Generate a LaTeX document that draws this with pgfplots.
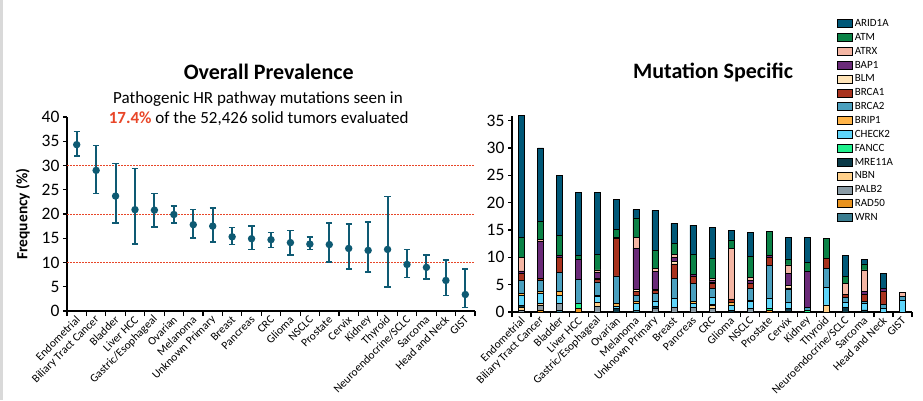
\documentclass[border=0pt]{standalone}
\usepackage{pgfplots}
\pgfplotsset{compat=1.18}
\usepackage{pgfplotstable}
\usepackage{fontspec}
\setmainfont{Carlito}

\definecolor{cARID}{RGB}{0,88,120}
\definecolor{cATM}{RGB}{10,130,70}
\definecolor{cATRX}{RGB}{244,182,164}
\definecolor{cBAP}{RGB}{106,42,120}
\definecolor{cBLM}{RGB}{255,228,184}
\definecolor{cBRCA1}{RGB}{168,50,30}
\definecolor{cBRCA2}{RGB}{74,159,190}
\definecolor{cBRIP}{RGB}{255,180,72}
\definecolor{cCHK}{RGB}{94,213,250}
\definecolor{cFANCC}{RGB}{30,240,140}
\definecolor{cMRE}{RGB}{10,58,72}
\definecolor{cNBN}{RGB}{255,208,138}
\definecolor{cPALB}{RGB}{138,155,165}
\definecolor{cRAD}{RGB}{232,146,30}
\definecolor{cWRN}{RGB}{58,125,144}
\definecolor{pt}{RGB}{14,90,115}
\definecolor{redl}{RGB}{232,70,40}

\pgfplotstableread{
x y ep em
0 34.3 2.7 2.3
1 29.0 5.1 4.8
2 23.7 6.7 5.5
3 20.9 8.5 7.1
4 20.8 3.4 3.5
5 19.9 1.8 1.7
6 17.8 3.1 2.7
7 17.5 3.8 3.3
8 15.3 1.9 1.6
9 14.9 2.6 2.2
10 14.7 1.5 1.6
11 14.1 2.5 2.5
12 13.8 1.4 1.1
13 13.7 4.5 3.6
14 12.9 5.1 4.2
15 12.5 5.9 4.4
16 12.7 10.9 7.7
17 9.6 3.1 2.7
18 9.0 2.6 2.4
19 6.3 4.2 3.1
20 3.4 5.3 2.7
}\prevtable

\pgfplotstableread{
x WRN RAD50 PALB2 NBN MRE11A FANCC CHECK2 BRIP1 BRCA2 BRCA1 BLM BAP1 ATRX ATM ARID1A
0 0 0 0.3 0.6 0.3 0 1.9 0.3 2.4 1.3 0 0.4 2.5 3.7 22.2
1 0 0.4 0.9 0.3 0 0 1.9 0.3 2.0 0.4 0 6.7 0.4 3.3 13.4
2 0.35 0 1.2 0 0 0 1.5 0.7 3.5 2.7 0 0.4 0 3.6 11.0
3 0 0.7 0 0 0 0.9 0 0 4.4 0 0 3.6 0 0.8 11.5
4 0 0 1.0 0.8 0 0 1.0 0.3 2.4 0.4 0.3 1.1 0.4 2.8 11.4
5 0 0 0 0 0.7 0 0.4 0.5 5.0 6.8 0 0.3 0 1.4 5.5
6 0.3 0 0 0 0 0 1.3 0.3 1.2 0.7 0.4 7.5 1.9 3.6 1.5
7 0 0 0.7 0 0.3 0 0.9 0 1.5 0.5 0.3 3.2 0.5 3.3 7.4
8 0 0 0.9 0 0 0 1.6 0 3.6 2.7 0.4 0.8 0.6 1.9 3.7
9 0 0 0.9 0 0 0 0.7 0.4 3.3 1.2 0 0.4 0 3.6 5.4
10 0 0 0.7 0.5 0.2 0 1.3 0 1.6 0.9 0.3 0.3 0.4 3.7 5.5
11 0 0 0 0 0.3 0 1.0 0.5 0 0.6 0 0 9.2 1.6 1.7
12 0 0 0.7 0 0 0 1.2 0.2 2.2 1.0 0 0.5 0.6 3.7 4.4
13 0 0.3 0 0 0 0.3 1.9 0 6.0 1.5 0 0.3 0 4.5 0
14 0 0 0.2 0 0.4 0 1.2 0 2.3 0.3 0.5 2.2 1.5 1.1 4.0
15 0 0 0 0 0 0.4 0 0 0.5 0 0 6.5 0 1.7 4.5
16 0 0 0 1.3 0 0 3.2 0 3.5 1.8 0 0 0 3.6 0
17 0 0 0 0 0.8 0 1.0 0 0.9 0.5 0 0 2.0 1.3 3.9
18 0 0 0 0 0.4 0 1.2 0 0.4 1.2 0 0.6 3.9 1.1 0.8
19 0 0 0 0 0 0 0.6 0 0.8 2.3 0 0.6 0 0 2.8
20 0 0 0 0 0 0 2.1 0 0.7 0 0 0 0.8 0 0
}\mutable

\pgfplotsset{
  common/.style={
    scale only axis,
    axis lines=left,
    axis line style={-, line width=1.3pt},
    xmin=-0.5, xmax=20.5,
    ymin=0,
    xtick={0,...,20},
    xticklabels={Endometrial,Biliary Tract Cancer,Bladder,Liver HCC,Gastric/Esophageal,Ovarian,Melanoma,Unknown Primary,Breast,Pancreas,CRC,Glioma,NSCLC,Prostate,Cervix,Kidney,Thyroid,Neuroendocrine/SCLC,Sarcoma,Head and Neck,GIST},
    minor xtick={-0.5,0.5,...,20.5},
    major x tick style={draw=none},
    minor x tick style={line width=1.2pt, black},
    y tick style={line width=1.2pt, black},
    tick align=outside,
    major tick length=4pt,
    minor tick length=5pt,
    xticklabel style={rotate=45, anchor=east, font=\fontsize{11.5}{12}\selectfont, inner sep=1pt, yshift=-3pt},
    yticklabel style={font=\fontsize{17.5}{18}\selectfont},
    /pgf/number format/assume math mode=true,
    clip=false,
  }
}

\begin{document}
\begin{tikzpicture}
\useasboundingbox (0,0) rectangle (923pt,400pt);
\fill[black!15] (0,0) rectangle (2.5pt,400pt);

\begin{axis}[common,
  at={(67pt,89pt)}, anchor=south west,
  width=408pt, height=194pt,
  ymax=40, ytick={0,5,...,40},
  extra y ticks={10,20,30},
  extra y tick style={grid=major, major grid style={redl, line width=0.7pt, dash pattern=on 2pt off 1pt}, major tick length=0pt, yticklabels={}},
  ylabel={\bfseries Frequency (\%)},
  ylabel style={font=\fontsize{15.5}{16}\selectfont, yshift=1pt},
]
\addplot[only marks, mark=*, mark size=2.6pt, color=pt, line width=2.1pt,
  error bars/.cd, y dir=both, y explicit,
  error bar style={line width=2.1pt, color=pt},
  error mark options={rotate=90, mark size=3.2pt, line width=1.7pt, color=pt}]
  table[x=x, y=y, y error plus=ep, y error minus=em] {\prevtable};
\end{axis}

\begin{axis}[common,
  at={(512pt,88pt)}, anchor=south west,
  width=400pt, height=195.8pt,
  ymax=35.8, ytick={0,5,...,35},
  ybar stacked, bar width=6pt,
  every axis plot/.append style={draw=black, line width=0.6pt},
  reverse legend,
  legend cell align=left,
  legend style={draw=none, fill=none, at={(0.812,1.505)}, anchor=north west,
    font=\fontsize{11}{12}\selectfont, row sep=1.25pt, inner sep=0pt},
  legend image code/.code={\draw[#1, draw=black, line width=0.8pt] (0pt,-4pt) rectangle (15pt,4pt);},
]
\addplot[fill=cWRN] table[x=x,y=WRN]{\mutable};
\addplot[fill=cRAD] table[x=x,y=RAD50]{\mutable};
\addplot[fill=cPALB] table[x=x,y=PALB2]{\mutable};
\addplot[fill=cNBN] table[x=x,y=NBN]{\mutable};
\addplot[fill=cMRE] table[x=x,y=MRE11A]{\mutable};
\addplot[fill=cFANCC] table[x=x,y=FANCC]{\mutable};
\addplot[fill=cCHK] table[x=x,y=CHECK2]{\mutable};
\addplot[fill=cBRIP] table[x=x,y=BRIP1]{\mutable};
\addplot[fill=cBRCA2] table[x=x,y=BRCA2]{\mutable};
\addplot[fill=cBRCA1] table[x=x,y=BRCA1]{\mutable};
\addplot[fill=cBLM] table[x=x,y=BLM]{\mutable};
\addplot[fill=cBAP] table[x=x,y=BAP1]{\mutable};
\addplot[fill=cATRX] table[x=x,y=ATRX]{\mutable};
\addplot[fill=cATM] table[x=x,y=ATM]{\mutable};
\addplot[fill=cARID] table[x=x,y=ARID1A]{\mutable};
\legend{WRN,RAD50,PALB2,NBN,MRE11A,FANCC,CHECK2,BRIP1,BRCA2,BRCA1,BLM,BAP1,ATRX,ATM,ARID1A}
\end{axis}

\node[font=\fontsize{22}{24}\selectfont\bfseries] at (268.7pt,328pt) {Overall Prevalence};
\node[font=\fontsize{17}{19}\selectfont] at (258pt,301pt) {Pathogenic HR pathway mutations seen in};
\node[font=\fontsize{17}{19}\selectfont] at (258.7pt,281pt) {{\bfseries\color{redl}17.4\%} of the 52,426 solid tumors evaluated};
\node[font=\fontsize{22}{24}\selectfont\bfseries] at (713pt,328pt) {Mutation Specific};
\end{tikzpicture}
\end{document}
